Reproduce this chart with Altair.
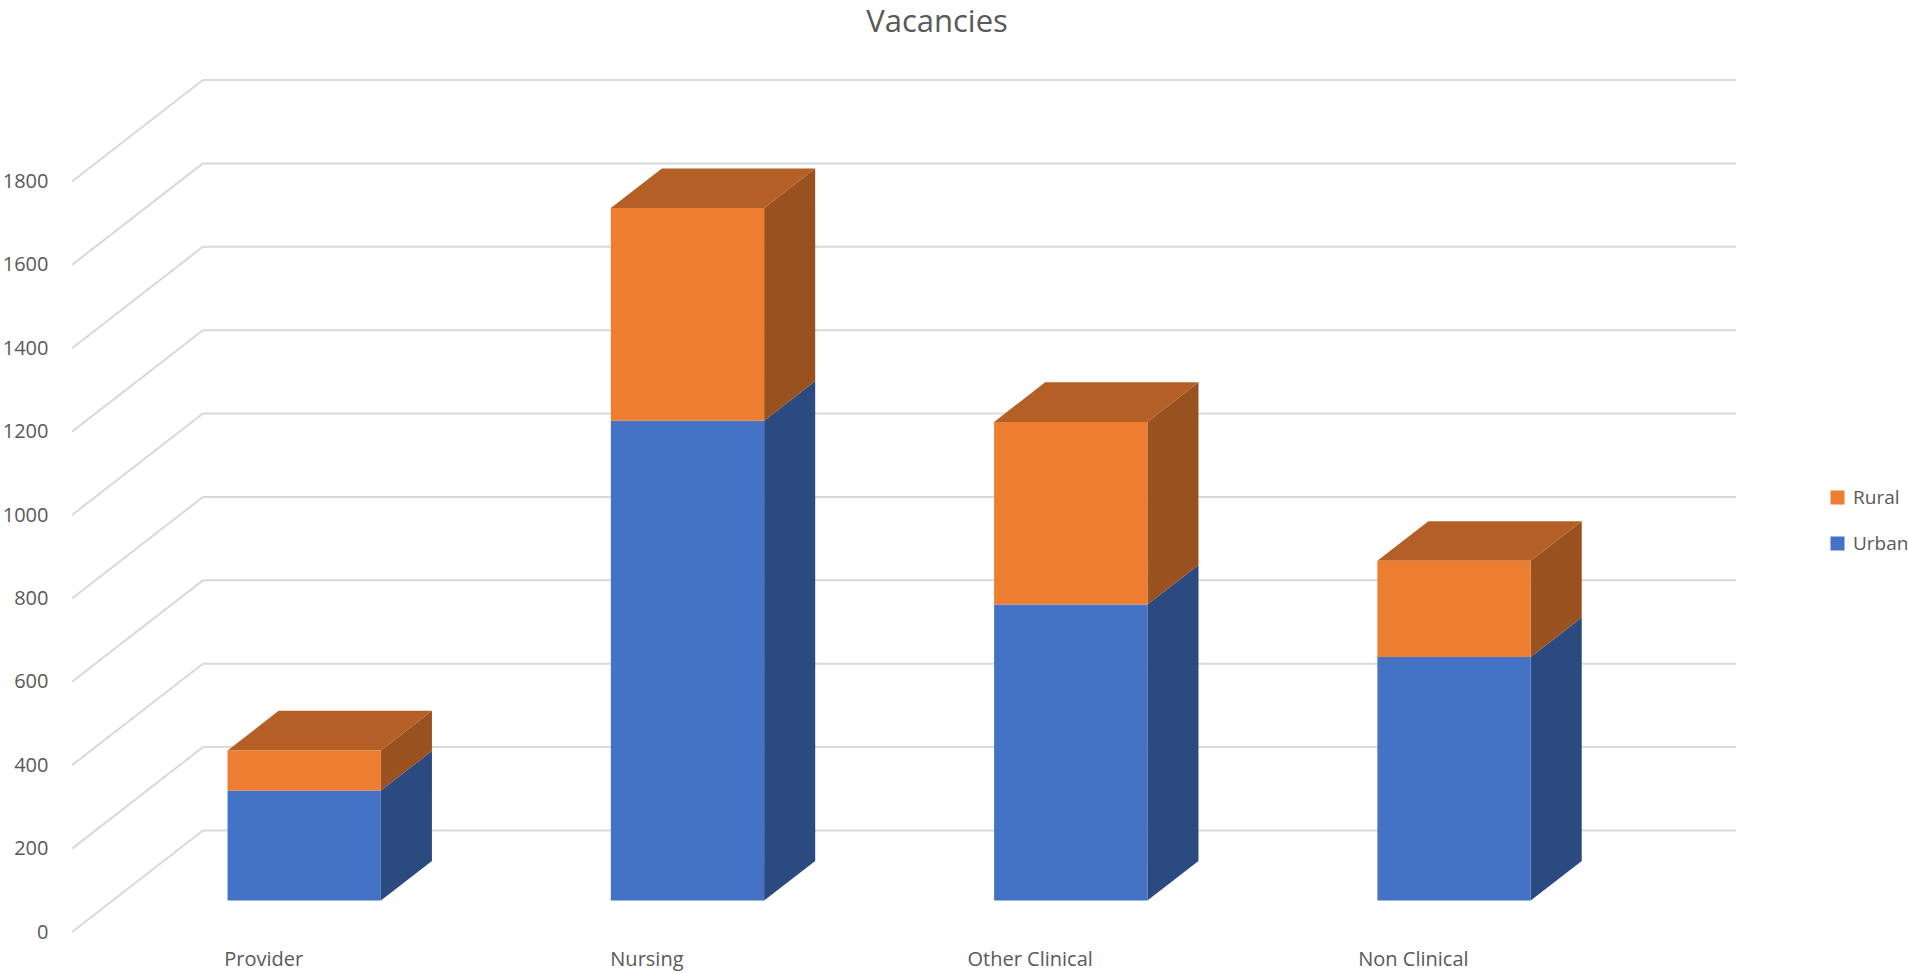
import altair as alt
import pandas as pd

# ---- data ----
categories = ["Provider", "Nursing", "Other Clinical", "Non Clinical"]
urban = [264, 1151, 710, 584]
rural = [96, 510, 438, 231]
series = ["Rural", "Urban"]
tick_values = [0, 200, 400, 600, 800, 1000, 1200, 1400, 1600, 1800]

# ---- oblique 3-D geometry, expressed in scale units ----
DX = 0.3416   # depth shift along x (category units)
DY = 243.4    # depth shift along y (value units)
F1, F2 = 0.31, 0.70      # front / back depth fractions of the bars
BAR_L, BAR_R = 0.30, 0.70  # bar extent within a category slot

xs = alt.Scale(domain=[0, len(categories) + DX], nice=False, zero=False)
ys = alt.Scale(domain=[0, tick_values[-1] + DY], nice=False, zero=False)

front_rows, side_rows, top_rows = [], [], []
for i, cat in enumerate(categories):
    segs = [("Urban", 0, urban[i]), ("Rural", urban[i], urban[i] + rural[i])]
    for name, base, top in segs:
        front_rows.append(dict(cat=cat, series=name,
                               x=i + BAR_L + F1 * DX, x2=i + BAR_R + F1 * DX,
                               y=base + F1 * DY, y2=top + F1 * DY))
        for f in (F1, F2):
            side_rows.append(dict(face=f"{cat}-{name}", series=name,
                                  x=i + BAR_R + f * DX,
                                  y=top + f * DY, y2=base + f * DY))
        if name == "Rural":
            for f in (F1, F2):
                top_rows.append(dict(face=f"{cat}-{name}",
                                     x=i + BAR_L + f * DX, x2=i + BAR_R + f * DX,
                                     y=top + f * DY))

front_df = pd.DataFrame(front_rows)
side_df = pd.DataFrame(side_rows)
top_df = pd.DataFrame(top_rows)
diag_df = pd.DataFrame(dict(v=tick_values, x=0.0, x2=DX,
                            y=tick_values, y2=[v + DY for v in tick_values]))
back_df = pd.DataFrame(dict(x=DX, x2=len(categories) + DX,
                            y=[v + DY for v in tick_values]))
label_df = pd.DataFrame(dict(cat=categories,
                             x=[i + 0.5 for i in range(len(categories))],
                             y=0))

GRID = "#D9D9D9"
TXT = "#595959"
FONT = "Open Sans"

yax = alt.Axis(values=tick_values, format="d", domain=False, ticks=False,
               grid=False, title=None, labelFont=FONT, labelFontSize=20,
               labelColor=TXT, labelPadding=24)


def X(field="x:Q", **kw):
    return alt.X(field, scale=xs, axis=None, **kw)


def Y(field="y:Q", **kw):
    return alt.Y(field, scale=ys, axis=yax, **kw)


diag = alt.Chart(diag_df).mark_rule(color=GRID, strokeWidth=2).encode(
    x=X(), x2="x2:Q", y=Y(), y2="y2:Q",
)
back = alt.Chart(back_df).mark_rule(color=GRID, strokeWidth=2).encode(
    x=X(), x2="x2:Q", y=Y(),
)

side_colors = {"Urban": "#2B4A7F", "Rural": "#9A5120"}
sides = [
    alt.Chart(side_df[side_df.series == s]).mark_area(color=side_colors[s]).encode(
        x=X(), y=Y(stack=None), y2="y2:Q", detail="face:N",
    )
    for s in ["Urban", "Rural"]
]

tops = alt.Chart(top_df).mark_area(orient="horizontal", color="#B45F25").encode(
    y=Y(), x=X(stack=None), x2="x2:Q", detail="face:N",
)

fronts = alt.Chart(front_df).mark_rect().encode(
    x=X(), x2="x2:Q", y=Y(), y2="y2:Q",
    color=alt.Color("series:N",
                    scale=alt.Scale(domain=series, range=["#ED7D31", "#4472C4"]),
                    legend=alt.Legend(orient="none", legendX=1756, legendY=408,
                                      title=None, symbolType="square",
                                      symbolSize=196, symbolStrokeWidth=0,
                                      labelFont=FONT, labelFontSize=19,
                                      labelColor=TXT, rowPadding=26,
                                      labelOffset=6)),
)

labels = alt.Chart(label_df).mark_text(
    font=FONT, fontSize=20, color=TXT, baseline="middle", dy=28
).encode(
    x=X(), y=Y(), text="cat:N",
)

chart = alt.layer(diag, back, *sides, tops, fronts, labels).properties(
    width=1664,
    height=852,
    autosize=alt.AutoSizeParams(type="none"),
    padding={"left": 72, "top": 80, "right": 172, "bottom": 41},
    background="white",
    title=alt.TitleParams(text="Vacancies", font=FONT, fontSize=31,
                          fontWeight="normal", color=TXT, anchor="middle",
                          dx=33, offset=40),
).configure_view(stroke=None)

chart.save("out.html", embed_options={"renderer": "svg", "actions": False})
